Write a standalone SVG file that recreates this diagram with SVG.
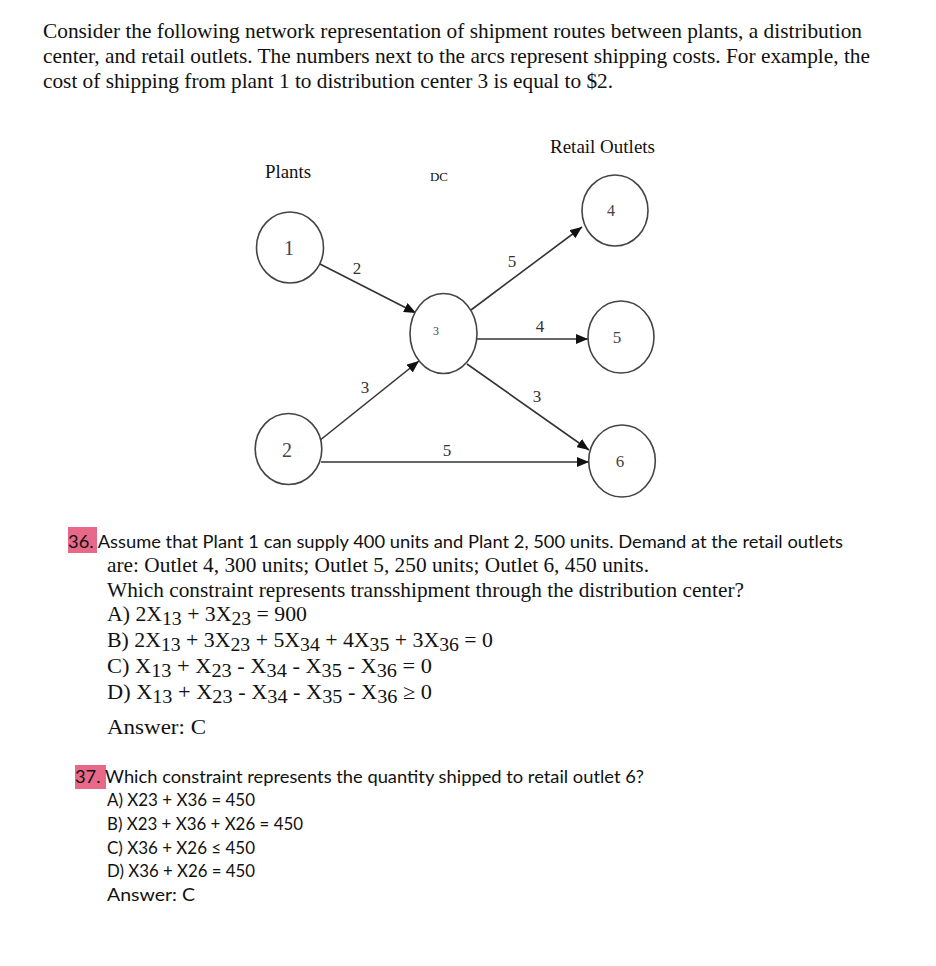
<svg xmlns="http://www.w3.org/2000/svg" width="936" height="966" viewBox="0 0 936 966">
<defs>
<marker id="ah" viewBox="0 0 12 10" refX="12" refY="5" markerWidth="12" markerHeight="10" markerUnits="userSpaceOnUse" orient="auto">
<path d="M0,0 L12,5 L0,10 z" fill="#111"/>
</marker>
<style>
.ser{font-family:"Liberation Serif","Times New Roman",serif;fill:#111}
.san{font-family:Lato,"Liberation Sans",Arial,sans-serif;fill:#111}
.hd{font-size:21.5px}
.q{font-size:21px}
.node{fill:#fff;stroke:#444;stroke-width:1.6}
.nl{font-family:"Liberation Serif","Times New Roman",serif;fill:#444;text-anchor:middle}
.edge{stroke:#333;stroke-width:1.6;fill:none}
.el{font-family:"Liberation Serif","Times New Roman",serif;font-size:17px;fill:#333;text-anchor:middle}
.hl{fill:#e8688a}
.sub{font-size:19px}
</style>
</defs>
<rect width="936" height="966" fill="#fff"/>

<g id="header">
<text class="ser hd" x="43" y="38" textLength="819" lengthAdjust="spacingAndGlyphs">Consider the following network representation of shipment routes between plants, a distribution</text>
<text class="ser hd" x="43" y="63" textLength="827" lengthAdjust="spacingAndGlyphs">center, and retail outlets. The numbers next to the arcs represent shipping costs. For example, the</text>
<text class="ser hd" x="43" y="88" textLength="570" lengthAdjust="spacingAndGlyphs">cost of shipping from plant 1 to distribution center 3 is equal to $2.</text>
</g>

<g id="labels">
<text class="ser" x="265" y="178" font-size="18" textLength="46" lengthAdjust="spacingAndGlyphs">Plants</text>
<text class="ser" x="430" y="181" font-size="12" textLength="18" lengthAdjust="spacingAndGlyphs">DC</text>
<text class="ser" x="550" y="153" font-size="18" textLength="105" lengthAdjust="spacingAndGlyphs">Retail Outlets</text>
</g>

<g id="connectors">
<line class="edge" x1="318" y1="263" x2="416" y2="313" marker-end="url(#ah)"/>
<line class="edge" x1="319" y1="441" x2="419" y2="361" marker-end="url(#ah)"/>
<line class="edge" x1="471" y1="310" x2="582" y2="227" marker-end="url(#ah)"/>
<line class="edge" x1="477" y1="339" x2="588" y2="339" marker-end="url(#ah)"/>
<line class="edge" x1="467" y1="364" x2="589" y2="450" marker-end="url(#ah)"/>
<line class="edge" x1="321" y1="462" x2="589" y2="462" marker-end="url(#ah)"/>
<text class="el" x="357" y="274">2</text>
<text class="el" x="365" y="393">3</text>
<text class="el" x="512" y="267">5</text>
<text class="el" x="540" y="332">4</text>
<text class="el" x="537" y="402">3</text>
<text class="el" x="447" y="456">5</text>
</g>

<g id="node1"><ellipse class="node" cx="290" cy="247.5" rx="33.5" ry="35.5"/><text class="nl" x="289" y="255" font-size="20" fill="#222">1</text></g>
<g id="node2"><ellipse class="node" cx="288.5" cy="449" rx="33.3" ry="35.5"/><text class="nl" x="287" y="457" font-size="20">2</text></g>
<g id="node3"><ellipse class="node" cx="443.5" cy="333.5" rx="33.5" ry="40"/><text class="nl" x="436" y="335" font-size="12">3</text></g>
<g id="node4"><ellipse class="node" cx="615" cy="210.5" rx="33" ry="35.5"/><text class="nl" x="611" y="216" font-size="16">4</text></g>
<g id="node5"><ellipse class="node" cx="621" cy="337" rx="33" ry="36"/><text class="nl" x="617" y="343" font-size="17">5</text></g>
<g id="node6"><ellipse class="node" cx="622" cy="461" rx="33.3" ry="36"/><text class="nl" x="620" y="467" font-size="17">6</text></g>

<g id="q36">
<rect class="hl" x="68" y="527" width="29" height="26"/>
<text class="san" x="68" y="548" font-size="17.5" textLength="775" lengthAdjust="spacingAndGlyphs">36. Assume that Plant 1 can supply 400 units and Plant 2, 500 units. Demand at the retail outlets</text>
<text class="ser q" x="107" y="572" textLength="542" lengthAdjust="spacingAndGlyphs">are: Outlet 4, 300 units; Outlet 5, 250 units; Outlet 6, 450 units.</text>
<text class="ser q" x="107" y="597" textLength="637" lengthAdjust="spacingAndGlyphs">Which constraint represents transshipment through the distribution center?</text>
<text class="ser q" x="107" y="621" textLength="200" lengthAdjust="spacingAndGlyphs">A) 2X<tspan class="sub" dy="4">13</tspan><tspan dy="-4"> + 3X</tspan><tspan class="sub" dy="4">23</tspan><tspan dy="-4"> = 900</tspan></text>
<text class="ser q" x="107" y="647" textLength="386" lengthAdjust="spacingAndGlyphs">B) 2X<tspan class="sub" dy="4">13</tspan><tspan dy="-4"> + 3X</tspan><tspan class="sub" dy="4">23</tspan><tspan dy="-4"> + 5X</tspan><tspan class="sub" dy="4">34</tspan><tspan dy="-4"> + 4X</tspan><tspan class="sub" dy="4">35</tspan><tspan dy="-4"> + 3X</tspan><tspan class="sub" dy="4">36</tspan><tspan dy="-4"> = 0</tspan></text>
<text class="ser q" x="107" y="673" textLength="325" lengthAdjust="spacingAndGlyphs">C) X<tspan class="sub" dy="4">13</tspan><tspan dy="-4"> + X</tspan><tspan class="sub" dy="4">23</tspan><tspan dy="-4"> - X</tspan><tspan class="sub" dy="4">34</tspan><tspan dy="-4"> - X</tspan><tspan class="sub" dy="4">35</tspan><tspan dy="-4"> - X</tspan><tspan class="sub" dy="4">36</tspan><tspan dy="-4"> = 0</tspan></text>
<text class="ser q" x="107" y="699" textLength="325" lengthAdjust="spacingAndGlyphs">D) X<tspan class="sub" dy="4">13</tspan><tspan dy="-4"> + X</tspan><tspan class="sub" dy="4">23</tspan><tspan dy="-4"> - X</tspan><tspan class="sub" dy="4">34</tspan><tspan dy="-4"> - X</tspan><tspan class="sub" dy="4">35</tspan><tspan dy="-4"> - X</tspan><tspan class="sub" dy="4">36</tspan><tspan dy="-4"> ≥ 0</tspan></text>
<text class="ser q" x="107" y="734" textLength="99" lengthAdjust="spacingAndGlyphs">Answer:  C</text>
</g>

<g id="q37">
<rect class="hl" x="75" y="765" width="31" height="24"/>
<text class="san" x="75" y="783" font-size="17" textLength="569" lengthAdjust="spacingAndGlyphs">37. Which constraint represents the quantity shipped to retail outlet 6?</text>
<text class="san" x="107" y="806" font-size="17" textLength="148" lengthAdjust="spacingAndGlyphs">A) X23 + X36 = 450</text>
<text class="san" x="107" y="830" font-size="17" textLength="196" lengthAdjust="spacingAndGlyphs">B) X23 + X36 + X26 = 450</text>
<text class="san" x="107" y="854" font-size="17" textLength="148" lengthAdjust="spacingAndGlyphs">C) X36 + X26 ≤ 450</text>
<text class="san" x="107" y="877" font-size="17" textLength="148" lengthAdjust="spacingAndGlyphs">D) X36 + X26 = 450</text>
<text class="san" x="107" y="901" font-size="17" textLength="88" lengthAdjust="spacingAndGlyphs">Answer:  C</text>
</g>
</svg>
